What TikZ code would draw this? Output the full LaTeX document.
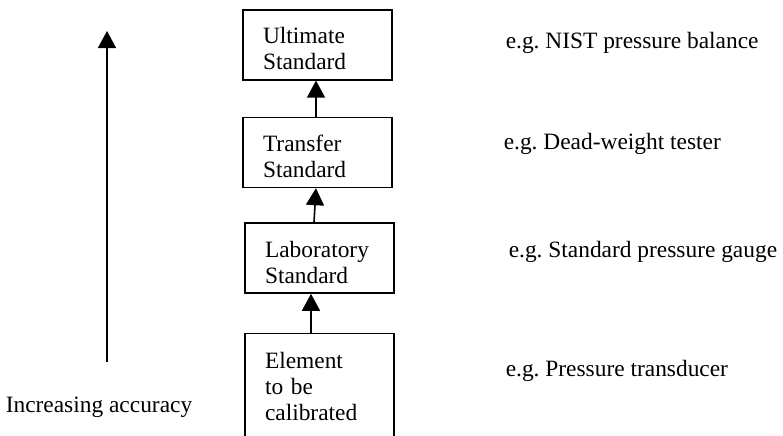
\documentclass[tikz,border=0pt]{standalone}
\usepackage{fontspec}
\setmainfont{Liberation Serif}
\usetikzlibrary{arrows.meta,positioning}

\begin{document}
\begin{tikzpicture}[x=0.5pt,y=-0.5pt,>={Triangle[width=9pt,length=8.5pt]},line width=0.8pt,
  stdbox/.style={draw=black,rectangle,align=left,text width=54.5pt,
    inner xsep=10pt,inner ysep=0pt,text height=17pt,text depth=18pt,
    font=\fontsize{11.7pt}{13pt}\selectfont},
  example/.style={anchor=base west,inner sep=0pt,font=\fontsize{11.7pt}{13pt}\selectfont}]
\useasboundingbox (0,0) rectangle (783,435);
\clip (0,0) rectangle (783,435);
% chain of standards
\node[stdbox,anchor=north] at (317.5,9) (ult) {Ultimate\\Standard};
\node[stdbox,below=18pt of ult] (trans) {Transfer\\Standard};
\node[stdbox,below=17pt of trans,xshift=1pt] (lab) {Laboratory\\Standard};
\node[stdbox,below=19.5pt of lab,text height=17.5pt,text depth=38pt] (elem)
      {Element\\to be\\calibrated};
\draw[->] ([xshift=-0.75pt]trans.north) -- ([xshift=-0.75pt]ult.south);
\draw[->] ([xshift=-2.75pt]lab.north) -- ([xshift=-0.75pt]trans.south);
\draw[->] ([xshift=-4.25pt]elem.north) -- ([xshift=-4.25pt]lab.south);
% examples
\node[example] at (505,48) (nist) {e.g.\ NIST pressure balance};
\node[example] at (503,149) (dw) {e.g.\ Dead-weight tester};
\node[example] at (508,257) (gauge) {e.g.\ Standard pressure gauge};
\node[example] at (505,376) (trd) {e.g.\ Pressure transducer};
% accuracy axis
\coordinate (acclow) at (107,362);
\coordinate (acchigh) at (107,31);
\draw[->] (acclow) -- (acchigh);
\node[anchor=base,inner sep=0pt,font=\fontsize{11.7pt}{13pt}\selectfont] at (99,412) (acc)
      {Increasing accuracy};
\end{tikzpicture}
\end{document}
